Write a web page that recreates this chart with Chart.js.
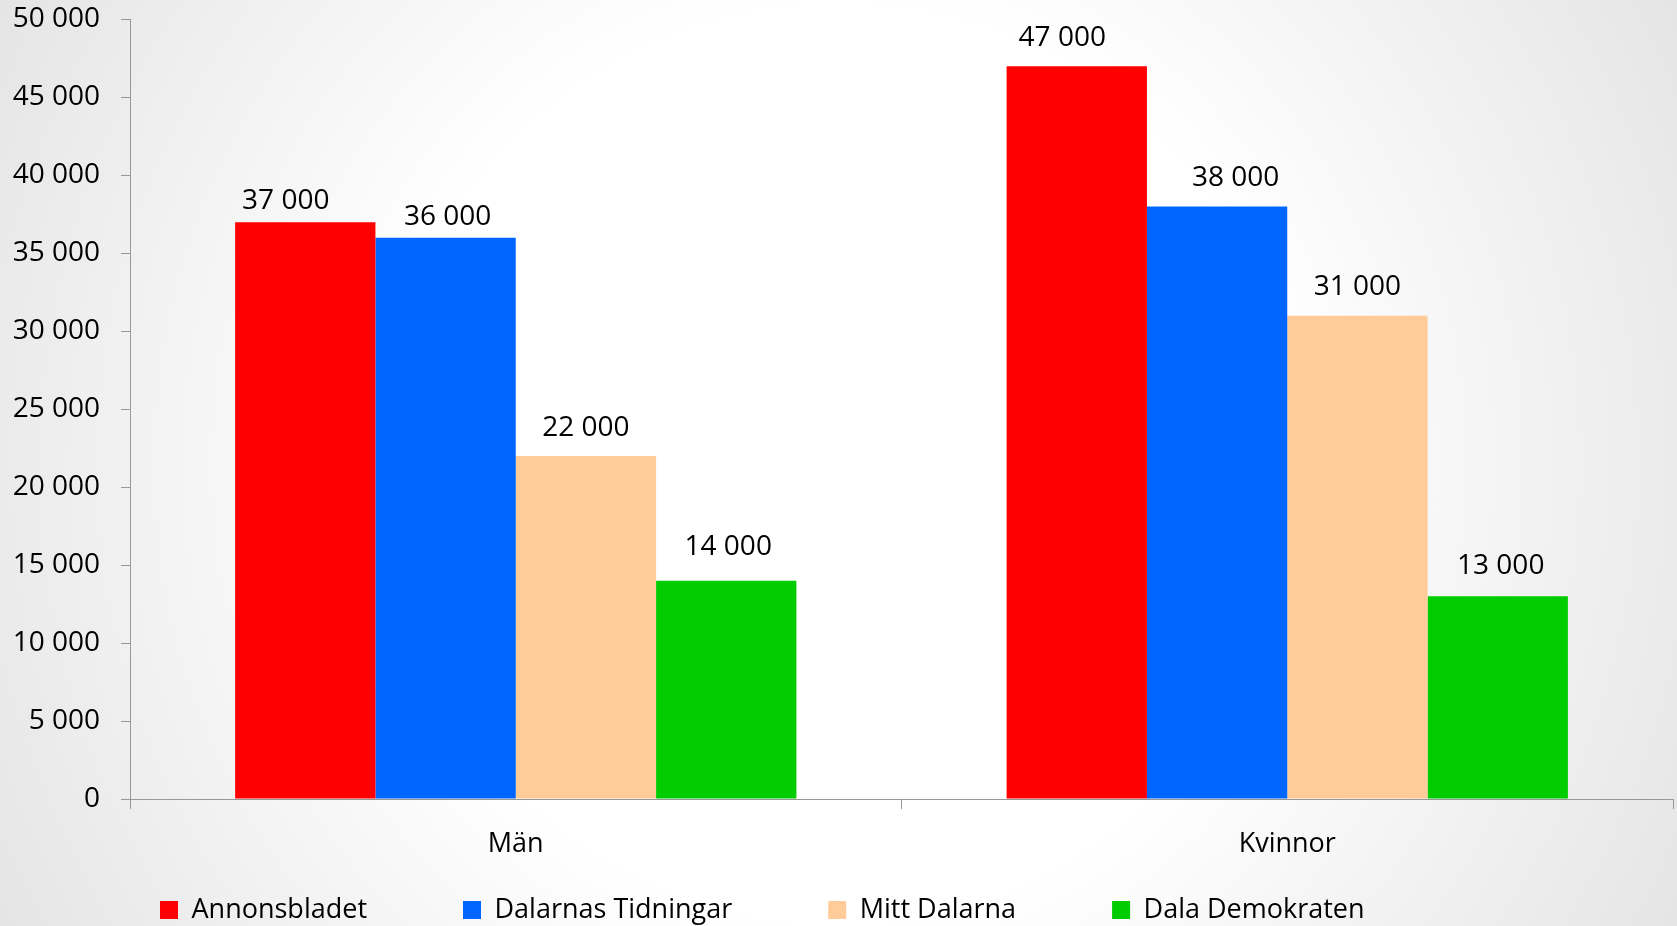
<!DOCTYPE html>
<html>
<head>
<meta charset="utf-8">
<script src="https://cdn.jsdelivr.net/npm/chart.js@4.4.1/dist/chart.umd.min.js"></script>
<style>
  html, body { margin: 0; padding: 0; }
  body {
    width: 1677px; height: 926px; overflow: hidden;
    background: radial-gradient(ellipse 60% 110% at 50% 50%, #ffffff 45%, #e2e2e2 100%);
  }
  #wrap { position: relative; width: 1677px; height: 926px; }
</style>
</head>
<body>
<div id="wrap"><canvas id="c"></canvas></div>
<script>
const categories = ['Män', 'Kvinnor'];
const seriesNames = ['Annonsbladet', 'Dalarnas Tidningar', 'Mitt Dalarna', 'Dala Demokraten'];
const annonsbladet = [37000, 47000];
const dalarnasTidningar = [36000, 38000];
const mittDalarna = [22000, 31000];
const dalaDemokraten = [14000, 13000];
const seriesColors = ['#FF0000', '#0066FF', '#FFCC99', '#00CC00'];
const yMin = 0, yMax = 50000, yStep = 5000;

function fmt(v) {
  return String(v).replace(/\B(?=(\d{3})+(?!\d))/g, ' ');
}

const FONT = "'Open Sans', 'DejaVu Sans', sans-serif";
const seriesValues = [annonsbladet, dalarnasTidningar, mittDalarna, dalaDemokraten];

// value labels drawn at the bar positions computed by Chart.js
const valueLabels = {
  id: 'valueLabels',
  afterDatasetsDraw(chart, args, opts) {
    const ctx = chart.ctx;
    ctx.save();
    ctx.font = opts.size + 'px ' + FONT;
    ctx.fillStyle = '#000';
    ctx.textAlign = 'center';
    ctx.textBaseline = 'alphabetic';
    const capHalf = opts.size * 0.714 / 2;
    chart.data.datasets.forEach((ds, i) => {
      const meta = chart.getDatasetMeta(i);
      meta.data.forEach((bar, j) => {
        const dx = opts.dx[i][j], dy = opts.dy[i][j];
        ctx.fillText(fmt(ds.data[j]), bar.x + dx, bar.y - dy + capHalf);
      });
    });
    ctx.restore();
  }
};

// place the legend row like the original (left offset / baseline)
const legendPlace = {
  id: 'legendPlace',
  afterLayout(chart, args, opts) {
    const lg = chart.legend;
    if (!lg) return;
    lg.left = opts.left; lg.right = chart.width;
    lg.top = opts.top; lg.bottom = chart.height;
  }
};

new Chart(document.getElementById('c'), {
  type: 'bar',
  data: {
    labels: categories,
    datasets: seriesNames.map((name, i) => ({
      label: name,
      data: seriesValues[i],
      backgroundColor: seriesColors[i],
      borderWidth: 0
    }))
  },
  options: {
    responsive: true,
    maintainAspectRatio: false,
    animation: false,
    categoryPercentage: 0.7275,
    barPercentage: 1.0,
    layout: { padding: { top: 19.5, left: 0, right: 4, bottom: 0 } },
    plugins: {
      tooltip: { enabled: false },
      legend: {
        position: 'bottom',
        align: 'start',
        maxHeight: 65,
        labels: {
          boxWidth: 18,
          boxHeight: 18,
          padding: 96,
          color: '#000',
          font: { family: FONT, size: 27 }
        }
      },
      legendPlace: { left: 64, top: 800.5 },
      valueLabels: {
        size: 28,
        dx: [[-19.5, -14.5], [2, 18.5], [0, 0], [2, 3]],
        dy: [[23, 30.5], [23, 31], [30, 30.7], [36, 32]]
      }
    },
    scales: {
      x: {
        afterFit: (s) => { s.height = 62; },
        grid: { display: true, drawOnChartArea: false, drawTicks: true, tickLength: 10, color: '#989898', offset: true },
        border: { display: true, color: '#989898', width: 1 },
        ticks: { color: '#000', padding: 19, font: { family: FONT, size: 27 } }
      },
      y: {
        min: yMin, max: yMax,
        afterFit: (s) => { s.width = 130; s.paddingTop = 0; s.paddingBottom = 0; },
        grid: { display: true, drawOnChartArea: false, drawTicks: true, tickLength: 9, color: '#989898' },
        border: { display: true, color: '#989898', width: 1 },
        ticks: { stepSize: yStep, color: '#000', padding: 21, font: { family: FONT, size: 28 }, callback: (v) => fmt(v) }
      }
    }
  },
  plugins: [valueLabels, legendPlace]
});
</script>
</body>
</html>
